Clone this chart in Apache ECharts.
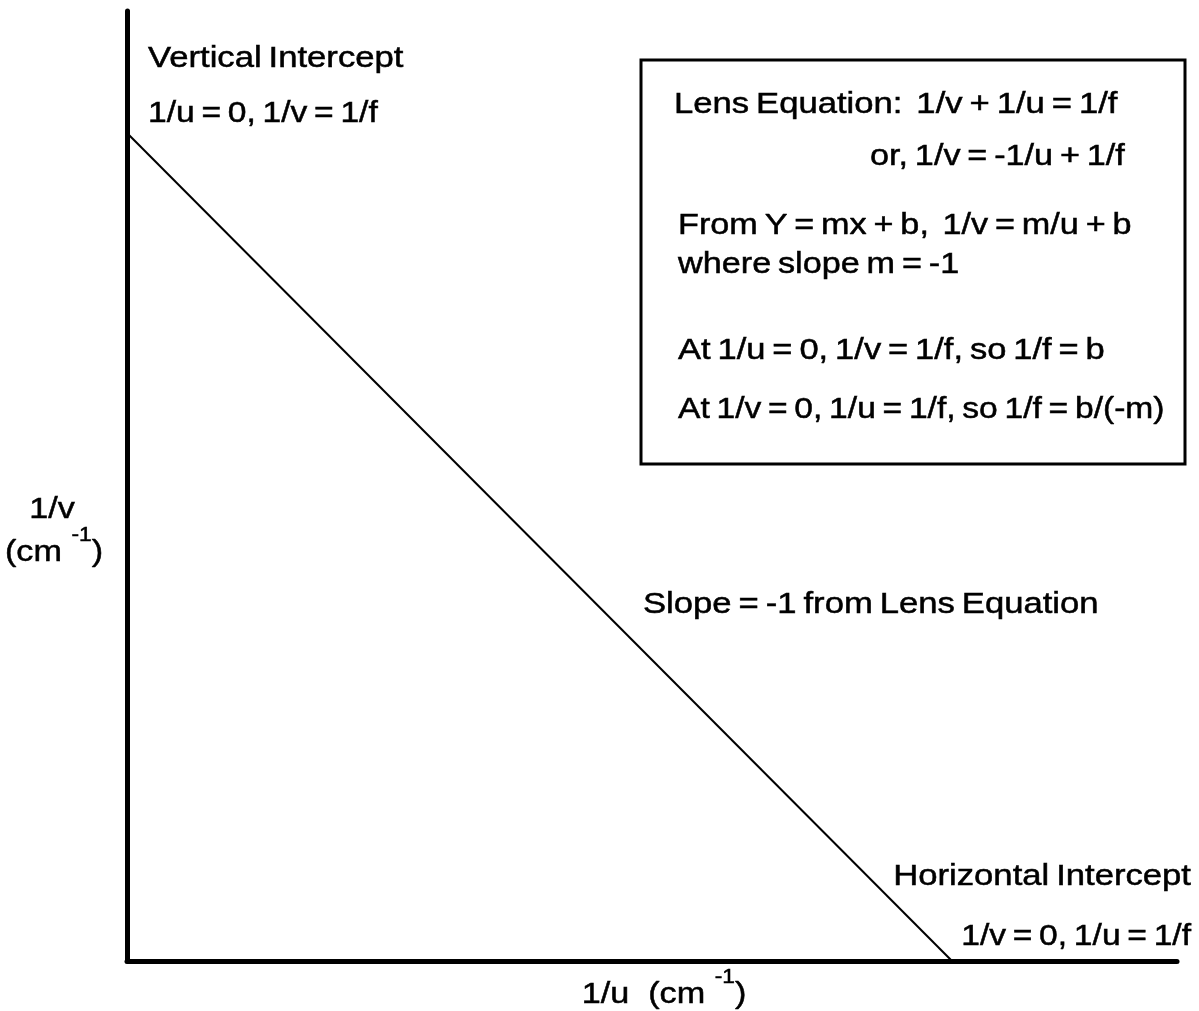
<!DOCTYPE html>
<html>
<head>
<meta charset="utf-8">
<script src="https://cdn.jsdelivr.net/npm/echarts@6/dist/echarts.min.js"></script>
<style>
  html, body { margin: 0; padding: 0; background: #fff; }
  #chart { width: 1199px; height: 1011px; }
</style>
</head>
<body>
<div id="chart"></div>
<script>
// 1/u and 1/v at the two intercepts (in units of 1/f)
var invU = [0, 1]
var invV = [1, 0]
// axis extents, same units
var uMax = 1.2727
var vMax = 1.1473

var FONT = "'Liberation Sans', Arial, sans-serif"
var SX = 1.14 // the source picture is a little stretched sideways
var DY = 2

// the source uses tight word gaps
function tight(s) {
  return s.replace(/  /g, ' \u2009').replace(/(^|[^ ]) (?! )/g, '$1\u2009')
}

function label(x, y, text, align, sx) {
  return {
    type: 'text',
    x: x,
    y: y + DY,
    scaleX: sx || SX,
    silent: true,
    style: {
      text: tight(text),
      fontFamily: FONT,
      fontSize: 30,
      fill: '#000',
      stroke: '#000',
      lineWidth: 0.5,
      align: align || 'left',
      textAlign: align || 'left',
      verticalAlign: 'middle',
      textVerticalAlign: 'middle'
    }
  }
}

function unitLabel(x, y, text) {
  return {
    type: 'text',
    x: x,
    y: y + DY,
    scaleX: SX,
    silent: true,
    style: {
      text: text,
      fontFamily: FONT,
      fill: '#000',
      align: 'center',
      textAlign: 'center',
      verticalAlign: 'middle',
      textVerticalAlign: 'middle',
      rich: {
        n: { fontFamily: FONT, fontSize: 30, lineHeight: 56, verticalAlign: 'middle', fill: '#000', stroke: '#000', lineWidth: 0.5 },
        s: { fontFamily: FONT, fontSize: 20, lineHeight: 20, verticalAlign: 'top', fill: '#000', stroke: '#000', lineWidth: 0.5 }
      }
    }
  }
}

var myChart = echarts.init(document.getElementById('chart'))
myChart.setOption({
  animation: false,
  backgroundColor: '#fff',
  grid: {
    left: 127,
    right: 22,
    top: 11,
    bottom: 50
  },
  xAxis: {
    type: 'value',
    min: 0,
    max: uMax,
    axisLine: { show: true, onZero: false, lineStyle: { color: '#000', width: 5 } },
    axisTick: { show: false },
    axisLabel: { show: false },
    splitLine: { show: false }
  },
  yAxis: {
    type: 'value',
    min: 0,
    max: vMax,
    axisLine: { show: true, onZero: false, lineStyle: { color: '#000', width: 5 } },
    axisTick: { show: false },
    axisLabel: { show: false },
    splitLine: { show: false }
  },
  series: [
    {
      type: 'line',
      data: invU.map(function (u, i) { return [u, invV[i]] }),
      symbol: 'none',
      silent: true,
      lineStyle: { color: '#000', width: 2 }
    }
  ],
  graphic: [
    // equation box
    {
      type: 'rect',
      silent: true,
      shape: { x: 641, y: 60, width: 544, height: 404 },
      style: { fill: '#fff', stroke: '#000', lineWidth: 3 }
    },
    label(674, 103, 'Lens Equation:  1/v + 1/u = 1/f', 'left', 1.155),
    label(870, 155, 'or, 1/v = -1/u + 1/f'),
    label(678, 224, 'From Y = mx + b,  1/v = m/u + b'),
    label(678, 263, 'where slope m = -1'),
    label(678, 349, 'At 1/u = 0, 1/v = 1/f, so 1/f = b', 'left', 1.15),
    label(678, 408, 'At 1/v = 0, 1/u = 1/f, so 1/f = b/(-m)', 'left', 1.12),

    // intercept notes
    label(148, 57, 'Vertical Intercept', 'left', 1.155),
    label(148, 112, '1/u = 0, 1/v = 1/f', 'left', 1.12),
    label(1191, 875, 'Horizontal Intercept', 'right', 1.155),
    label(1191, 935, '1/v = 0, 1/u = 1/f', 'right', 1.12),
    label(643, 603, 'Slope = -1 from Lens Equation', 'left', 1.155),

    // axis titles
    label(52, 508, '1/v', 'center'),
    unitLabel(54, 551, '{n|(cm }{s|-1}{n|)}'),
    unitLabel(664, 993, '{n|1/u  (cm }{s|-1}{n|)}')
  ]
})
</script>
</body>
</html>
